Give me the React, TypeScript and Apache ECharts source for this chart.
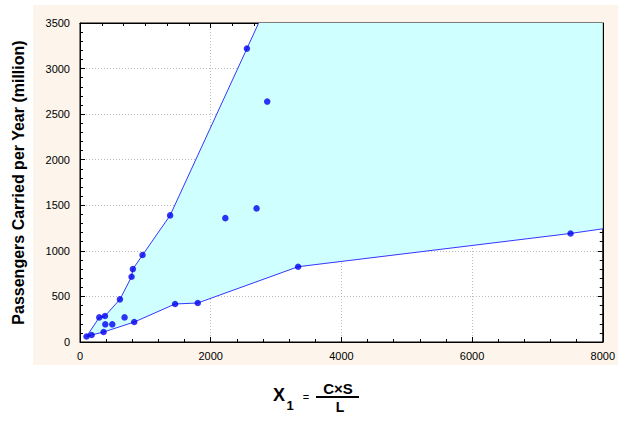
import React, { useEffect, useRef } from "react";
import * as echarts from "echarts";

// Observed data points: [X1, passengers (million)]
const pointsX = [100, 178, 295, 382, 387, 494, 361, 611, 682, 830, 789, 809, 957, 1379, 1455, 1802, 2224, 2702, 2554, 2865, 3338, 7507];
const pointsY = [60, 77, 270, 285, 194, 194, 110, 468, 270, 219, 716, 800, 954, 1389, 417, 428, 1359, 1466, 3219, 2638, 826, 1191];

// Upper boundary of the envelope
const upperX = [100, 295, 382, 611, 789, 809, 957, 1379, 2554, 2734];
const upperY = [60, 270, 285, 468, 716, 800, 954, 1389, 3219, 3500];

// Lower boundary of the envelope
const lowerX = [100, 178, 361, 830, 1455, 1802, 3338, 7507, 8000];
const lowerY = [60, 77, 110, 219, 417, 428, 826, 1191, 1242];

// Closing corner of the shaded region (top-right of the plot)
const cornerX = [8000];
const cornerY = [3500];

const xTicks = [0, 2000, 4000, 6000, 8000];
const yTicks = [0, 500, 1000, 1500, 2000, 2500, 3000, 3500];

const FONT = "'Liberation Sans', Arial, sans-serif";

export default function App() {
  const ref = useRef<HTMLDivElement>(null);

  useEffect(() => {
    if (!ref.current) return;
    const chart = echarts.init(ref.current, undefined, { renderer: "svg" });

    const pts = pointsX.map((x, i) => [x, pointsY[i]]);
    const upper = upperX.map((x, i) => [x, upperY[i]]);
    const lower = lowerX.map((x, i) => [x, lowerY[i]]);
    const corner = cornerX.map((x, i) => [x, cornerY[i]]);
    const polygonData = [...upper, ...corner, ...lower.slice().reverse()];

    const xMin = xTicks[0];
    const xMax = xTicks[xTicks.length - 1];
    const yMin = yTicks[0];
    const yMax = yTicks[yTicks.length - 1];

    const axisLine = { show: true, onZero: false, lineStyle: { color: "#000", width: 1 } };
    const tickCommon = { show: true, inside: true, length: 5, lineStyle: { color: "#000" } };
    const minorCommon = { show: true, splitNumber: 5, length: 3, lineStyle: { color: "#000" } };
    const fmt = (v: number) => String(v);

    chart.setOption({
      animation: false,
      graphic: [
        {
          type: "rect",
          z: -100,
          shape: { x: 33, y: 5, width: 585, height: 360 },
          style: { fill: "#fdf5ec" },
          silent: true,
        },
        {
          type: "text",
          style: { x: 279, y: 395, text: "X", font: `bold 18px ${FONT}`, fill: "#000", textAlign: "center", textVerticalAlign: "middle" },
        },
        {
          type: "text",
          style: { x: 290, y: 405, text: "1", font: `bold 13px ${FONT}`, fill: "#000", textAlign: "center", textVerticalAlign: "middle" },
        },
        {
          type: "text",
          style: { x: 306, y: 397, text: "=", font: `11px ${FONT}`, fill: "#000", textAlign: "center", textVerticalAlign: "middle" },
        },
        {
          type: "text",
          style: { x: 338, y: 388, text: "C\u00d7S", font: `bold 15px ${FONT}`, fill: "#000", textAlign: "center", textVerticalAlign: "middle" },
        },
        {
          type: "line",
          shape: { x1: 316, y1: 397, x2: 359, y2: 397 },
          style: { stroke: "#000", lineWidth: 2 },
        },
        {
          type: "text",
          style: { x: 340, y: 407, text: "L", font: `bold 14px ${FONT}`, fill: "#000", textAlign: "center", textVerticalAlign: "middle" },
        },
      ],
      grid: {
        left: 80,
        top: 23,
        right: 14,
        bottom: 80,
        show: true,
        backgroundColor: "#ffffff",
        borderColor: "#000",
        borderWidth: 1,
      },
      xAxis: [
        {
          type: "value",
          min: xMin,
          max: xMax,
          interval: 2000,
          position: "bottom",
          axisLine,
          axisTick: tickCommon,
          minorTick: minorCommon,
          axisLabel: { color: "#000", fontFamily: FONT, fontSize: 11, margin: 8, formatter: fmt },
          splitLine: { show: true, lineStyle: { color: "#bdbdbd", type: [1, 2], width: 1 } },
        },
        {
          type: "value",
          min: xMin,
          max: xMax,
          interval: 2000,
          position: "top",
          axisLine,
          axisTick: tickCommon,
          minorTick: { ...minorCommon, splitNumber: 6 },
          axisLabel: { show: false },
          splitLine: { show: false },
        },
      ],
      yAxis: [
        {
          type: "value",
          min: yMin,
          max: yMax,
          interval: 500,
          position: "left",
          axisLine,
          axisTick: tickCommon,
          minorTick: minorCommon,
          axisLabel: { color: "#000", fontFamily: FONT, fontSize: 11, margin: 10, formatter: fmt },
          splitLine: { show: true, lineStyle: { color: "#bdbdbd", type: [1, 2], width: 1 } },
          name: "Passengers Carried per Year (million)",
          nameLocation: "middle",
          nameRotate: 90,
          nameGap: 54,
          nameTextStyle: { color: "#000", fontFamily: FONT, fontSize: 16, fontWeight: "bold" },
        },
        {
          type: "value",
          min: yMin,
          max: yMax,
          interval: 500,
          position: "right",
          axisLine,
          axisTick: tickCommon,
          minorTick: minorCommon,
          axisLabel: { show: false },
          splitLine: { show: false },
        },
      ],
      series: [
        {
          type: "custom",
          xAxisIndex: 0,
          yAxisIndex: 0,
          silent: true,
          z: 1,
          data: [0],
          renderItem: (params: any, api: any) => {
            const points = polygonData.map((p) => api.coord(p));
            return {
              type: "polygon",
              shape: { points },
              style: { fill: "#d0ffff", stroke: "none" },
            };
          },
        },
        {
          type: "line",
          data: upper,
          symbol: "none",
          z: 2,
          lineStyle: { color: "#3535ff", width: 1 },
          clip: true,
        },
        {
          type: "line",
          data: lower,
          symbol: "none",
          z: 2,
          lineStyle: { color: "#3535ff", width: 1 },
          clip: true,
        },
        {
          type: "scatter",
          data: pts,
          symbol: "circle",
          symbolSize: 6.5,
          z: 3,
          itemStyle: { color: "#0000ee" },
        },
      ],
    });

    return () => chart.dispose();
  }, []);

  return <div ref={ref} style={{ width: 618, height: 422, position: "absolute", left: 0, top: 0 }} />;
}
